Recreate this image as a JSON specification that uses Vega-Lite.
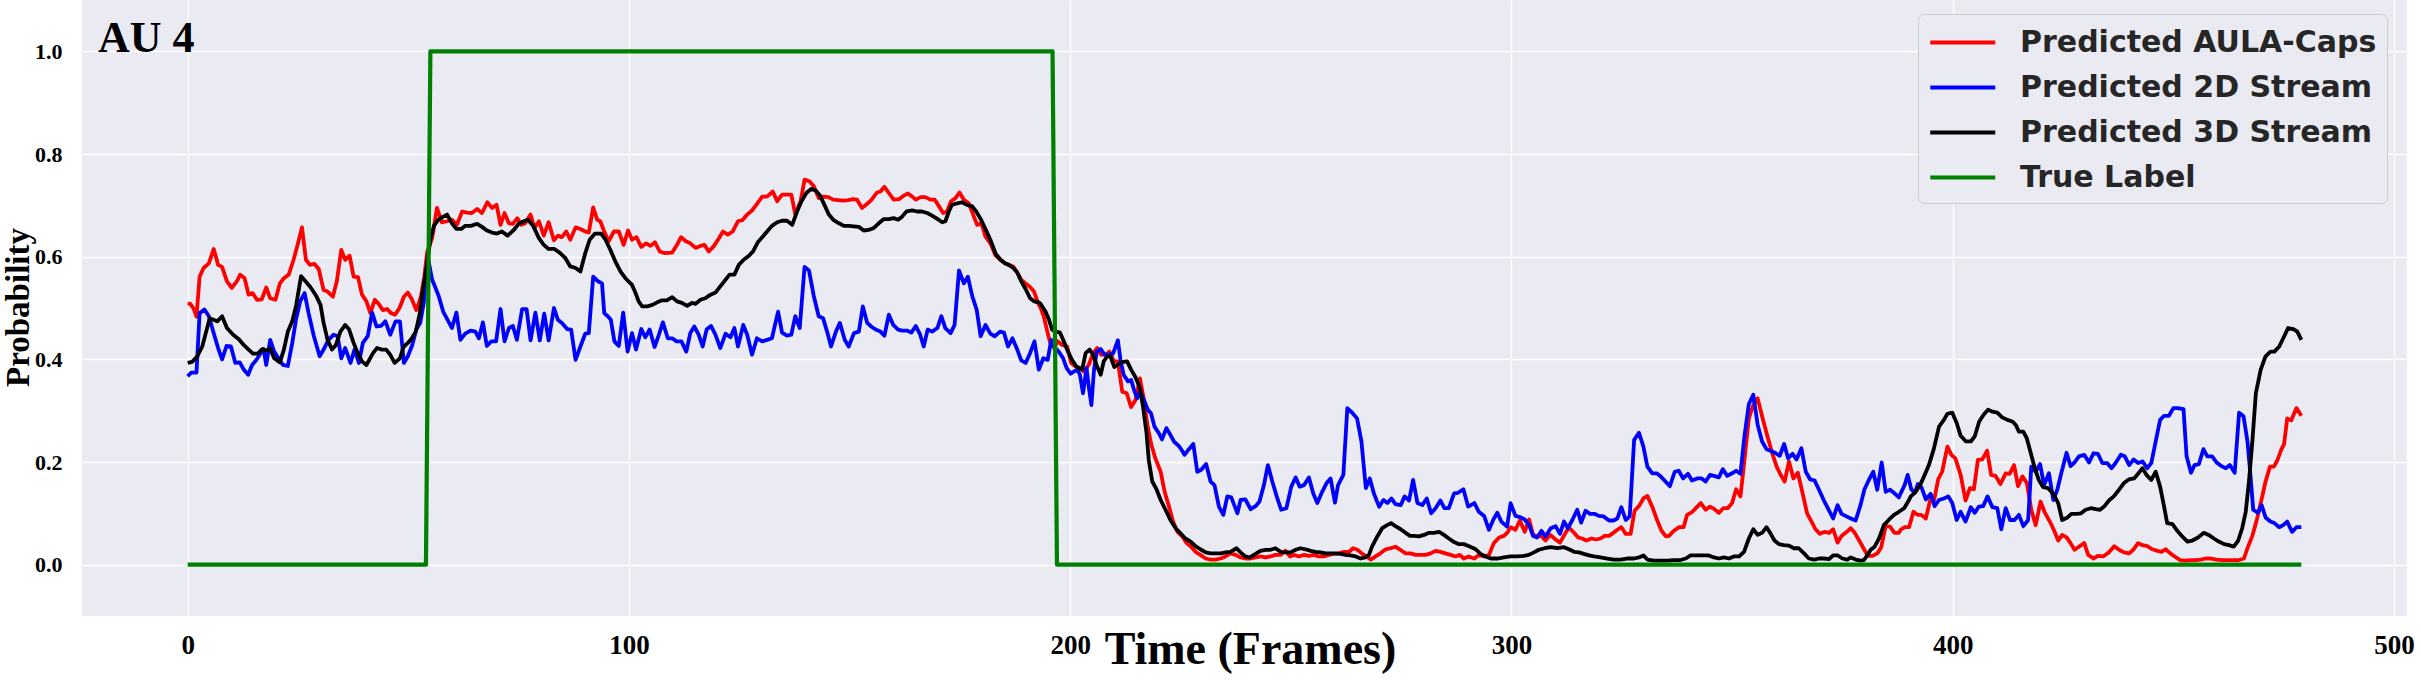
{
"$schema": "https://vega.github.io/schema/vega-lite/v6.json",
"width": 2325, "height": 616,
"autosize": {"type": "none"},
"padding": {"left": 82, "top": 0, "right": 14, "bottom": 72},
"background": "white",
"config": {"view": {"stroke": null, "fill": "#EAEAF2"}},
"title": {"text": "AU 4", "anchor": "start", "frame": "group", "orient": "top", "offset": 0, "dx": 16, "dy": 96, "baseline": "alphabetic", "font": "Liberation Serif", "fontSize": 44, "fontWeight": "bold", "color": "black"},
"datasets": {
"aula": [
{"f":0,"p":0.509},{"f":0.6,"p":0.508},{"f":1.4,"p":0.498},{"f":2,"p":0.483},{"f":2.7,"p":0.561},{"f":3.6,"p":0.578},{"f":4.8,"p":0.587},{"f":5.9,"p":0.615},{"f":6.9,"p":0.584},{"f":7.8,"p":0.58},{"f":8.9,"p":0.552},{"f":10,"p":0.539},{"f":11.2,"p":0.553},{"f":11.9,"p":0.565},{"f":12.9,"p":0.558},{"f":13.8,"p":0.526},{"f":14.7,"p":0.529},{"f":15.7,"p":0.516},{"f":16.8,"p":0.517},{"f":17.8,"p":0.54},{"f":18.7,"p":0.519},{"f":19.9,"p":0.516},{"f":20.9,"p":0.548},{"f":21.8,"p":0.558},{"f":22.9,"p":0.565},{"f":24,"p":0.594},{"f":25,"p":0.626},{"f":25.9,"p":0.657},{"f":26.8,"p":0.594},{"f":27.7,"p":0.584},{"f":28.7,"p":0.586},{"f":29.7,"p":0.576},{"f":30.8,"p":0.535},{"f":31.7,"p":0.532},{"f":32.9,"p":0.522},{"f":33.8,"p":0.552},{"f":34.8,"p":0.613},{"f":35.7,"p":0.594},{"f":36.7,"p":0.602},{"f":37.6,"p":0.561},{"f":38.6,"p":0.56},{"f":39.5,"p":0.526},{"f":40.5,"p":0.513},{"f":41.4,"p":0.49},{"f":42.4,"p":0.516},{"f":43.3,"p":0.508},{"f":44.2,"p":0.496},{"f":45.2,"p":0.498},{"f":46.1,"p":0.49},{"f":47,"p":0.487},{"f":48,"p":0.5},{"f":49,"p":0.522},{"f":49.9,"p":0.53},{"f":50.8,"p":0.517},{"f":51.8,"p":0.496},{"f":52.8,"p":0.52},{"f":53.6,"p":0.56},{"f":54.3,"p":0.61},{"f":55.4,"p":0.636},{"f":56.5,"p":0.695},{"f":57.6,"p":0.667},{"f":58.8,"p":0.669},{"f":59.9,"p":0.672},{"f":61,"p":0.662},{"f":62.2,"p":0.688},{"f":63.3,"p":0.686},{"f":64.4,"p":0.685},{"f":65.6,"p":0.693},{"f":66.7,"p":0.685},{"f":67.9,"p":0.706},{"f":69,"p":0.695},{"f":70,"p":0.701},{"f":70.9,"p":0.662},{"f":71.8,"p":0.685},{"f":72.8,"p":0.665},{"f":73.7,"p":0.664},{"f":74.7,"p":0.675},{"f":75.6,"p":0.662},{"f":76.5,"p":0.665},{"f":77.7,"p":0.682},{"f":78.6,"p":0.656},{"f":79.6,"p":0.669},{"f":80.7,"p":0.641},{"f":81.8,"p":0.667},{"f":83,"p":0.632},{"f":83.9,"p":0.641},{"f":84.8,"p":0.638},{"f":85.8,"p":0.649},{"f":86.7,"p":0.633},{"f":87.9,"p":0.657},{"f":89,"p":0.654},{"f":90.1,"p":0.649},{"f":90.9,"p":0.647},{"f":91.9,"p":0.696},{"f":92.8,"p":0.672},{"f":93.5,"p":0.669},{"f":94.4,"p":0.649},{"f":95.4,"p":0.63},{"f":96.6,"p":0.649},{"f":97.7,"p":0.649},{"f":98.8,"p":0.623},{"f":99.8,"p":0.651},{"f":100.7,"p":0.633},{"f":101.7,"p":0.638},{"f":102.8,"p":0.619},{"f":103.9,"p":0.626},{"f":104.9,"p":0.621},{"f":105.9,"p":0.628},{"f":107,"p":0.61},{"f":108,"p":0.607},{"f":109.8,"p":0.608},{"f":110.9,"p":0.623},{"f":111.8,"p":0.638},{"f":112.9,"p":0.63},{"f":113.9,"p":0.626},{"f":115.1,"p":0.617},{"f":116.2,"p":0.621},{"f":117.1,"p":0.623},{"f":118.1,"p":0.61},{"f":119.2,"p":0.62},{"f":120.4,"p":0.636},{"f":121.3,"p":0.649},{"f":122.4,"p":0.643},{"f":123.5,"p":0.649},{"f":124.7,"p":0.669},{"f":125.7,"p":0.671},{"f":126.8,"p":0.682},{"f":128,"p":0.691},{"f":129.1,"p":0.704},{"f":130.2,"p":0.717},{"f":131.3,"p":0.717},{"f":132.6,"p":0.727},{"f":133.6,"p":0.708},{"f":134.7,"p":0.721},{"f":135.9,"p":0.721},{"f":136.8,"p":0.721},{"f":137.7,"p":0.682},{"f":138.9,"p":0.708},{"f":139.8,"p":0.75},{"f":140.9,"p":0.747},{"f":141.9,"p":0.737},{"f":143,"p":0.714},{"f":144,"p":0.717},{"f":145.2,"p":0.716},{"f":146.3,"p":0.711},{"f":147.4,"p":0.71},{"f":148.5,"p":0.709},{"f":149.7,"p":0.71},{"f":150.8,"p":0.712},{"f":151.7,"p":0.711},{"f":152.8,"p":0.695},{"f":154,"p":0.703},{"f":155.1,"p":0.712},{"f":156.2,"p":0.725},{"f":157,"p":0.727},{"f":157.9,"p":0.736},{"f":158.9,"p":0.724},{"f":160,"p":0.711},{"f":161.2,"p":0.712},{"f":162.3,"p":0.719},{"f":163.2,"p":0.723},{"f":164.2,"p":0.717},{"f":165,"p":0.711},{"f":166.1,"p":0.716},{"f":167.2,"p":0.716},{"f":168.3,"p":0.711},{"f":169.3,"p":0.711},{"f":170.2,"p":0.699},{"f":171.2,"p":0.685},{"f":172.1,"p":0.688},{"f":173,"p":0.708},{"f":174,"p":0.714},{"f":174.9,"p":0.725},{"f":175.9,"p":0.711},{"f":177,"p":0.704},{"f":178,"p":0.682},{"f":178.9,"p":0.662},{"f":179.9,"p":0.665},{"f":180.8,"p":0.639},{"f":181.9,"p":0.626},{"f":183.1,"p":0.602},{"f":184.2,"p":0.594},{"f":185.2,"p":0.587},{"f":186.1,"p":0.584},{"f":187.1,"p":0.581},{"f":188,"p":0.569},{"f":188.9,"p":0.555},{"f":189.9,"p":0.548},{"f":190.9,"p":0.541},{"f":191.8,"p":0.532},{"f":192.7,"p":0.51},{"f":193.3,"p":0.5},{"f":194,"p":0.484},{"f":194.9,"p":0.451},{"f":195.5,"p":0.432},{"f":196.3,"p":0.422},{"f":197.2,"p":0.435},{"f":198.2,"p":0.428},{"f":199.3,"p":0.425},{"f":200.2,"p":0.393},{"f":201.2,"p":0.386},{"f":202.2,"p":0.383},{"f":203.1,"p":0.376},{"f":204.2,"p":0.389},{"f":205.2,"p":0.412},{"f":206.1,"p":0.422},{"f":207,"p":0.409},{"f":208,"p":0.409},{"f":208.9,"p":0.415},{"f":209.9,"p":0.396},{"f":210.8,"p":0.396},{"f":211.8,"p":0.337},{"f":212.8,"p":0.334},{"f":213.8,"p":0.307},{"f":214.8,"p":0.321},{"f":215.8,"p":0.363},{"f":216.7,"p":0.321},{"f":217.5,"p":0.272},{"f":218.4,"p":0.233},{"f":219.3,"p":0.207},{"f":220.5,"p":0.181},{"f":221.4,"p":0.142},{"f":222.4,"p":0.113},{"f":223.3,"p":0.084},{"f":224.3,"p":0.064},{"f":225.4,"p":0.055},{"f":226.4,"p":0.042},{"f":227.4,"p":0.035},{"f":228.4,"p":0.025},{"f":229.5,"p":0.019},{"f":230.7,"p":0.012},{"f":231.8,"p":0.01},{"f":232.9,"p":0.01},{"f":234.1,"p":0.012},{"f":235.2,"p":0.016},{"f":236.3,"p":0.022},{"f":237.5,"p":0.019},{"f":238.6,"p":0.014},{"f":239.7,"p":0.012},{"f":240.9,"p":0.012},{"f":242,"p":0.014},{"f":243.1,"p":0.016},{"f":244.3,"p":0.014},{"f":245.4,"p":0.016},{"f":246.5,"p":0.019},{"f":247.7,"p":0.019},{"f":248.8,"p":0.027},{"f":249.8,"p":0.016},{"f":250.7,"p":0.019},{"f":251.8,"p":0.016},{"f":253,"p":0.019},{"f":254.1,"p":0.017},{"f":255.2,"p":0.019},{"f":256.3,"p":0.016},{"f":257.5,"p":0.016},{"f":258.6,"p":0.019},{"f":259.8,"p":0.021},{"f":260.9,"p":0.022},{"f":262,"p":0.025},{"f":263.2,"p":0.025},{"f":264.1,"p":0.032},{"f":265.1,"p":0.029},{"f":266.2,"p":0.021},{"f":267.2,"p":0.016},{"f":268.1,"p":0.01},{"f":269.2,"p":0.016},{"f":270.3,"p":0.022},{"f":271.5,"p":0.03},{"f":272.6,"p":0.032},{"f":273.7,"p":0.035},{"f":274.8,"p":0.029},{"f":276,"p":0.022},{"f":277.1,"p":0.022},{"f":278.3,"p":0.019},{"f":279.4,"p":0.019},{"f":280.5,"p":0.019},{"f":281.7,"p":0.022},{"f":282.8,"p":0.027},{"f":283.9,"p":0.025},{"f":285,"p":0.022},{"f":286.2,"p":0.019},{"f":287.3,"p":0.016},{"f":288.3,"p":0.019},{"f":289.2,"p":0.012},{"f":290.3,"p":0.016},{"f":291.6,"p":0.012},{"f":292.6,"p":0.019},{"f":293.8,"p":0.016},{"f":294.9,"p":0.019},{"f":296,"p":0.042},{"f":297.2,"p":0.053},{"f":298.3,"p":0.056},{"f":299,"p":0.062},{"f":299.9,"p":0.073},{"f":300.9,"p":0.068},{"f":301.9,"p":0.086},{"f":303,"p":0.064},{"f":304,"p":0.088},{"f":304.9,"p":0.058},{"f":305.8,"p":0.055},{"f":306.7,"p":0.056},{"f":307.7,"p":0.047},{"f":308.8,"p":0.058},{"f":310,"p":0.049},{"f":311,"p":0.043},{"f":312,"p":0.058},{"f":313,"p":0.073},{"f":314.2,"p":0.062},{"f":315.1,"p":0.053},{"f":316,"p":0.051},{"f":317,"p":0.047},{"f":318.1,"p":0.051},{"f":319.1,"p":0.049},{"f":320.2,"p":0.051},{"f":321.1,"p":0.056},{"f":322.1,"p":0.056},{"f":323.1,"p":0.062},{"f":324,"p":0.068},{"f":324.9,"p":0.073},{"f":325.9,"p":0.06},{"f":327,"p":0.06},{"f":327.9,"p":0.105},{"f":328.9,"p":0.114},{"f":329.9,"p":0.129},{"f":330.8,"p":0.134},{"f":331.9,"p":0.113},{"f":333,"p":0.087},{"f":334,"p":0.066},{"f":335,"p":0.055},{"f":335.7,"p":0.056},{"f":336.8,"p":0.066},{"f":338,"p":0.073},{"f":339,"p":0.073},{"f":339.8,"p":0.097},{"f":341,"p":0.103},{"f":342,"p":0.112},{"f":342.9,"p":0.12},{"f":344,"p":0.107},{"f":345,"p":0.113},{"f":346,"p":0.108},{"f":347,"p":0.101},{"f":348,"p":0.11},{"f":349,"p":0.11},{"f":350,"p":0.12},{"f":350.9,"p":0.147},{"f":351.9,"p":0.133},{"f":352.8,"p":0.204},{"f":353.8,"p":0.285},{"f":354.8,"p":0.311},{"f":355.8,"p":0.324},{"f":356.8,"p":0.289},{"f":358,"p":0.25},{"f":359.1,"p":0.217},{"f":360.1,"p":0.191},{"f":361,"p":0.175},{"f":361.9,"p":0.162},{"f":362.9,"p":0.201},{"f":363.9,"p":0.168},{"f":364.9,"p":0.179},{"f":365.9,"p":0.142},{"f":367,"p":0.1},{"f":368,"p":0.084},{"f":368.9,"p":0.069},{"f":369.9,"p":0.06},{"f":371,"p":0.064},{"f":372,"p":0.062},{"f":372.9,"p":0.069},{"f":373.9,"p":0.043},{"f":374.8,"p":0.056},{"f":375.7,"p":0.062},{"f":376.9,"p":0.071},{"f":377.8,"p":0.062},{"f":378.8,"p":0.047},{"f":379.9,"p":0.03},{"f":380.8,"p":0.017},{"f":381.8,"p":0.017},{"f":382.9,"p":0.022},{"f":383.8,"p":0.034},{"f":384.8,"p":0.075},{"f":385.8,"p":0.074},{"f":386.8,"p":0.062},{"f":387.8,"p":0.062},{"f":388.2,"p":0.068},{"f":389.1,"p":0.073},{"f":390.1,"p":0.073},{"f":391.1,"p":0.103},{"f":392,"p":0.097},{"f":392.9,"p":0.097},{"f":393.9,"p":0.09},{"f":394.9,"p":0.126},{"f":395.8,"p":0.126},{"f":396.7,"p":0.166},{"f":397.6,"p":0.181},{"f":398.8,"p":0.23},{"f":399.7,"p":0.214},{"f":400.6,"p":0.207},{"f":401.8,"p":0.175},{"f":402.9,"p":0.125},{"f":403.9,"p":0.149},{"f":404.8,"p":0.147},{"f":405.7,"p":0.204},{"f":406.7,"p":0.205},{"f":407.8,"p":0.222},{"f":408.7,"p":0.175},{"f":409.7,"p":0.173},{"f":410.8,"p":0.157},{"f":412,"p":0.178},{"f":412.9,"p":0.177},{"f":413.9,"p":0.194},{"f":414.8,"p":0.153},{"f":415.8,"p":0.172},{"f":416.8,"p":0.159},{"f":417.8,"p":0.107},{"f":418.8,"p":0.077},{"f":419.9,"p":0.123},{"f":420.8,"p":0.103},{"f":422,"p":0.084},{"f":422.9,"p":0.068},{"f":423.9,"p":0.047},{"f":424.8,"p":0.058},{"f":425.8,"p":0.053},{"f":426.7,"p":0.042},{"f":427.6,"p":0.029},{"f":428.6,"p":0.035},{"f":429.8,"p":0.042},{"f":430.7,"p":0.019},{"f":431.9,"p":0.012},{"f":432.9,"p":0.017},{"f":434.1,"p":0.016},{"f":435.4,"p":0.024},{"f":436.6,"p":0.036},{"f":437.7,"p":0.029},{"f":438.8,"p":0.024},{"f":440,"p":0.022},{"f":440.9,"p":0.029},{"f":442,"p":0.042},{"f":443,"p":0.038},{"f":444.1,"p":0.036},{"f":445.2,"p":0.03},{"f":446.4,"p":0.027},{"f":447.3,"p":0.025},{"f":448.3,"p":0.03},{"f":449.3,"p":0.022},{"f":450.3,"p":0.016},{"f":451.5,"p":0.009},{"f":452.6,"p":0.008},{"f":453.8,"p":0.009},{"f":455.1,"p":0.009},{"f":456.2,"p":0.01},{"f":457.3,"p":0.012},{"f":458.5,"p":0.012},{"f":459.8,"p":0.01},{"f":461.1,"p":0.009},{"f":462.4,"p":0.009},{"f":463.7,"p":0.009},{"f":464.9,"p":0.009},{"f":466,"p":0.012},{"f":466.8,"p":0.032},{"f":467.9,"p":0.056},{"f":468.9,"p":0.087},{"f":469.8,"p":0.12},{"f":470.9,"p":0.162},{"f":471.9,"p":0.191},{"f":472.8,"p":0.191},{"f":473.6,"p":0.204},{"f":474.5,"p":0.225},{"f":475.1,"p":0.235},{"f":475.8,"p":0.285},{"f":476.7,"p":0.281},{"f":477.9,"p":0.305},{"f":479,"p":0.29}
],
"d2": [
{"f":0,"p":0.367},{"f":0.8,"p":0.374},{"f":2,"p":0.374},{"f":2.7,"p":0.49},{"f":3.8,"p":0.497},{"f":4.8,"p":0.484},{"f":5.9,"p":0.451},{"f":6.9,"p":0.422},{"f":7.8,"p":0.4},{"f":8.8,"p":0.426},{"f":9.8,"p":0.425},{"f":10.8,"p":0.393},{"f":11.8,"p":0.394},{"f":12.7,"p":0.38},{"f":13.7,"p":0.37},{"f":14.6,"p":0.389},{"f":15.6,"p":0.399},{"f":16.5,"p":0.412},{"f":17.2,"p":0.42},{"f":17.8,"p":0.389},{"f":18.7,"p":0.438},{"f":19.6,"p":0.415},{"f":20.6,"p":0.402},{"f":21.6,"p":0.389},{"f":22.7,"p":0.387},{"f":23.7,"p":0.432},{"f":24.6,"p":0.48},{"f":25.5,"p":0.513},{"f":26.5,"p":0.529},{"f":27.4,"p":0.49},{"f":28.6,"p":0.445},{"f":29.9,"p":0.406},{"f":30.8,"p":0.419},{"f":31.9,"p":0.438},{"f":33.1,"p":0.448},{"f":34,"p":0.445},{"f":34.8,"p":0.402},{"f":35.7,"p":0.422},{"f":36.9,"p":0.393},{"f":37.8,"p":0.419},{"f":38.8,"p":0.393},{"f":39.7,"p":0.432},{"f":40.8,"p":0.445},{"f":41.8,"p":0.491},{"f":42.8,"p":0.464},{"f":43.8,"p":0.465},{"f":44.8,"p":0.474},{"f":45.9,"p":0.448},{"f":47.1,"p":0.474},{"f":48.1,"p":0.474},{"f":49,"p":0.393},{"f":49.9,"p":0.406},{"f":50.9,"p":0.428},{"f":51.8,"p":0.458},{"f":52.7,"p":0.471},{"f":53.5,"p":0.51},{"f":54.4,"p":0.6},{"f":55.4,"p":0.555},{"f":55.9,"p":0.545},{"f":56.9,"p":0.523},{"f":57.9,"p":0.493},{"f":58.9,"p":0.477},{"f":59.9,"p":0.461},{"f":60.9,"p":0.491},{"f":61.8,"p":0.438},{"f":62.9,"p":0.45},{"f":64.1,"p":0.456},{"f":65.2,"p":0.454},{"f":66,"p":0.441},{"f":66.9,"p":0.472},{"f":67.8,"p":0.426},{"f":68.8,"p":0.435},{"f":69.9,"p":0.435},{"f":70.9,"p":0.498},{"f":71.8,"p":0.435},{"f":72.8,"p":0.461},{"f":73.7,"p":0.465},{"f":74.6,"p":0.438},{"f":75.8,"p":0.498},{"f":76.8,"p":0.498},{"f":77.7,"p":0.437},{"f":78.8,"p":0.491},{"f":79.8,"p":0.437},{"f":80.8,"p":0.489},{"f":81.8,"p":0.437},{"f":83,"p":0.5},{"f":83.9,"p":0.477},{"f":84.8,"p":0.471},{"f":86,"p":0.459},{"f":86.9,"p":0.458},{"f":87.9,"p":0.399},{"f":89,"p":0.425},{"f":90.1,"p":0.45},{"f":90.9,"p":0.451},{"f":91.9,"p":0.561},{"f":93,"p":0.552},{"f":93.9,"p":0.548},{"f":94.4,"p":0.49},{"f":95.2,"p":0.484},{"f":95.9,"p":0.477},{"f":96.7,"p":0.435},{"f":97.7,"p":0.426},{"f":98.7,"p":0.491},{"f":99.7,"p":0.415},{"f":100.7,"p":0.451},{"f":101.6,"p":0.419},{"f":102.8,"p":0.459},{"f":103.7,"p":0.443},{"f":104.7,"p":0.458},{"f":105.8,"p":0.424},{"f":106.8,"p":0.448},{"f":107.7,"p":0.472},{"f":108.8,"p":0.441},{"f":109.8,"p":0.441},{"f":110.8,"p":0.435},{"f":111.9,"p":0.435},{"f":113,"p":0.415},{"f":113.9,"p":0.451},{"f":114.8,"p":0.464},{"f":115.8,"p":0.448},{"f":116.7,"p":0.425},{"f":117.6,"p":0.458},{"f":118.6,"p":0.465},{"f":119.6,"p":0.448},{"f":120.7,"p":0.422},{"f":121.9,"p":0.45},{"f":123,"p":0.443},{"f":123.9,"p":0.461},{"f":124.7,"p":0.425},{"f":125.9,"p":0.467},{"f":126.8,"p":0.448},{"f":127.9,"p":0.409},{"f":129,"p":0.441},{"f":130.2,"p":0.435},{"f":131.3,"p":0.438},{"f":132.4,"p":0.441},{"f":133.8,"p":0.493},{"f":134.7,"p":0.452},{"f":135.8,"p":0.446},{"f":136.8,"p":0.448},{"f":137.7,"p":0.484},{"f":138.7,"p":0.461},{"f":139.8,"p":0.58},{"f":140.8,"p":0.573},{"f":141.9,"p":0.523},{"f":143,"p":0.484},{"f":144,"p":0.48},{"f":144.9,"p":0.454},{"f":145.8,"p":0.425},{"f":146.9,"p":0.454},{"f":147.8,"p":0.471},{"f":148.9,"p":0.438},{"f":149.8,"p":0.425},{"f":151,"p":0.451},{"f":152.1,"p":0.454},{"f":153,"p":0.503},{"f":154,"p":0.471},{"f":154.9,"p":0.464},{"f":155.9,"p":0.458},{"f":157,"p":0.454},{"f":157.9,"p":0.446},{"f":158.9,"p":0.487},{"f":159.9,"p":0.467},{"f":161,"p":0.458},{"f":161.9,"p":0.456},{"f":163,"p":0.456},{"f":164,"p":0.452},{"f":165,"p":0.465},{"f":166,"p":0.448},{"f":166.8,"p":0.425},{"f":167.7,"p":0.458},{"f":168.7,"p":0.454},{"f":169.9,"p":0.461},{"f":170.8,"p":0.484},{"f":171.7,"p":0.461},{"f":172.9,"p":0.451},{"f":173.8,"p":0.467},{"f":174.8,"p":0.573},{"f":175.9,"p":0.548},{"f":176.8,"p":0.561},{"f":177.8,"p":0.523},{"f":178.8,"p":0.497},{"f":179.7,"p":0.445},{"f":180.8,"p":0.467},{"f":181.9,"p":0.45},{"f":182.9,"p":0.445},{"f":184.1,"p":0.454},{"f":185,"p":0.452},{"f":185.9,"p":0.425},{"f":186.9,"p":0.441},{"f":188,"p":0.419},{"f":188.9,"p":0.398},{"f":189.9,"p":0.393},{"f":190.9,"p":0.412},{"f":191.9,"p":0.435},{"f":192.9,"p":0.38},{"f":193.9,"p":0.402},{"f":194.9,"p":0.399},{"f":195.7,"p":0.438},{"f":196.3,"p":0.425},{"f":197.4,"p":0.415},{"f":198.4,"p":0.402},{"f":199.2,"p":0.383},{"f":200.1,"p":0.372},{"f":200.8,"p":0.376},{"f":201.6,"p":0.38},{"f":202.2,"p":0.37},{"f":202.9,"p":0.334},{"f":203.7,"p":0.383},{"f":204.2,"p":0.347},{"f":204.8,"p":0.311},{"f":205.4,"p":0.38},{"f":206,"p":0.415},{"f":206.9,"p":0.42},{"f":207.8,"p":0.409},{"f":208.8,"p":0.409},{"f":209.7,"p":0.411},{"f":210.8,"p":0.437},{"f":211.4,"p":0.399},{"f":212.1,"p":0.37},{"f":213.1,"p":0.357},{"f":213.8,"p":0.36},{"f":214.6,"p":0.337},{"f":215.2,"p":0.324},{"f":215.9,"p":0.337},{"f":216.7,"p":0.321},{"f":217.6,"p":0.302},{"f":218.3,"p":0.295},{"f":219.1,"p":0.269},{"f":220.1,"p":0.256},{"f":220.8,"p":0.244},{"f":221.8,"p":0.266},{"f":222.7,"p":0.253},{"f":223.5,"p":0.24},{"f":224.4,"p":0.233},{"f":225,"p":0.227},{"f":225.9,"p":0.214},{"f":226.9,"p":0.225},{"f":227.9,"p":0.235},{"f":228.8,"p":0.181},{"f":229.7,"p":0.185},{"f":230.8,"p":0.196},{"f":231.8,"p":0.162},{"f":232.7,"p":0.155},{"f":233.7,"p":0.113},{"f":234.7,"p":0.097},{"f":235.6,"p":0.133},{"f":236.5,"p":0.131},{"f":237.9,"p":0.1},{"f":238.6,"p":0.126},{"f":239.7,"p":0.127},{"f":240.9,"p":0.108},{"f":242,"p":0.114},{"f":242.9,"p":0.123},{"f":243.9,"p":0.155},{"f":244.8,"p":0.194},{"f":245.8,"p":0.162},{"f":246.8,"p":0.133},{"f":247.8,"p":0.107},{"f":249,"p":0.11},{"f":250.1,"p":0.152},{"f":251.1,"p":0.17},{"f":252,"p":0.152},{"f":253,"p":0.155},{"f":254.1,"p":0.17},{"f":255.1,"p":0.138},{"f":256,"p":0.12},{"f":257.1,"p":0.142},{"f":258.1,"p":0.159},{"f":259,"p":0.168},{"f":260,"p":0.121},{"f":260.7,"p":0.155},{"f":261.9,"p":0.175},{"f":262.8,"p":0.305},{"f":264,"p":0.295},{"f":265,"p":0.285},{"f":266,"p":0.24},{"f":267,"p":0.149},{"f":267.9,"p":0.168},{"f":268.8,"p":0.139},{"f":270,"p":0.113},{"f":271,"p":0.126},{"f":271.9,"p":0.12},{"f":272.8,"p":0.129},{"f":273.7,"p":0.118},{"f":274.9,"p":0.116},{"f":275.8,"p":0.133},{"f":276.8,"p":0.125},{"f":277.7,"p":0.165},{"f":278.7,"p":0.12},{"f":279.8,"p":0.116},{"f":280.8,"p":0.129},{"f":281.8,"p":0.1},{"f":282.8,"p":0.11},{"f":283.9,"p":0.125},{"f":284.8,"p":0.11},{"f":285.8,"p":0.11},{"f":287,"p":0.139},{"f":287.9,"p":0.14},{"f":289.1,"p":0.147},{"f":290.2,"p":0.113},{"f":291.6,"p":0.12},{"f":292.6,"p":0.103},{"f":293.8,"p":0.095},{"f":294.9,"p":0.068},{"f":295.9,"p":0.088},{"f":296.8,"p":0.101},{"f":297.7,"p":0.084},{"f":299,"p":0.074},{"f":299.8,"p":0.12},{"f":300.9,"p":0.095},{"f":302.1,"p":0.092},{"f":303,"p":0.088},{"f":304,"p":0.077},{"f":304.9,"p":0.056},{"f":305.8,"p":0.053},{"f":306.8,"p":0.066},{"f":307.7,"p":0.055},{"f":308.9,"p":0.071},{"f":310,"p":0.075},{"f":311,"p":0.06},{"f":311.9,"p":0.084},{"f":312.8,"p":0.071},{"f":313.8,"p":0.087},{"f":314.9,"p":0.107},{"f":315.8,"p":0.082},{"f":316.8,"p":0.105},{"f":317.8,"p":0.099},{"f":318.8,"p":0.099},{"f":319.8,"p":0.095},{"f":320.9,"p":0.094},{"f":322.1,"p":0.086},{"f":323.1,"p":0.086},{"f":324,"p":0.09},{"f":324.9,"p":0.112},{"f":325.9,"p":0.087},{"f":326.8,"p":0.094},{"f":327.8,"p":0.243},{"f":328.9,"p":0.257},{"f":329.9,"p":0.23},{"f":330.8,"p":0.191},{"f":331.9,"p":0.178},{"f":332.9,"p":0.178},{"f":333.8,"p":0.172},{"f":334.9,"p":0.162},{"f":335.9,"p":0.153},{"f":337,"p":0.181},{"f":337.9,"p":0.183},{"f":338.9,"p":0.168},{"f":340,"p":0.177},{"f":340.9,"p":0.164},{"f":342.1,"p":0.168},{"f":343.1,"p":0.168},{"f":344,"p":0.162},{"f":345,"p":0.175},{"f":345.9,"p":0.173},{"f":347,"p":0.17},{"f":347.9,"p":0.186},{"f":348.9,"p":0.173},{"f":350,"p":0.178},{"f":350.9,"p":0.183},{"f":351.9,"p":0.177},{"f":352.8,"p":0.25},{"f":353.8,"p":0.313},{"f":354.8,"p":0.331},{"f":355.8,"p":0.272},{"f":356.8,"p":0.24},{"f":357.8,"p":0.225},{"f":358.7,"p":0.222},{"f":359.9,"p":0.217},{"f":360.8,"p":0.212},{"f":361.8,"p":0.235},{"f":362.7,"p":0.207},{"f":363.7,"p":0.216},{"f":364.6,"p":0.205},{"f":365.7,"p":0.227},{"f":366.7,"p":0.181},{"f":367.7,"p":0.166},{"f":368.7,"p":0.164},{"f":369.7,"p":0.146},{"f":370.8,"p":0.125},{"f":371.7,"p":0.11},{"f":372.9,"p":0.09},{"f":373.9,"p":0.116},{"f":374.8,"p":0.099},{"f":375.7,"p":0.095},{"f":376.9,"p":0.09},{"f":378,"p":0.086},{"f":379.1,"p":0.116},{"f":380,"p":0.147},{"f":381,"p":0.165},{"f":382,"p":0.181},{"f":382.9,"p":0.146},{"f":383.9,"p":0.199},{"f":384.8,"p":0.142},{"f":385.8,"p":0.146},{"f":386.8,"p":0.139},{"f":387.8,"p":0.131},{"f":388.2,"p":0.139},{"f":389.1,"p":0.155},{"f":389.8,"p":0.175},{"f":390.6,"p":0.147},{"f":391.4,"p":0.14},{"f":392.1,"p":0.157},{"f":392.9,"p":0.151},{"f":393.9,"p":0.127},{"f":395,"p":0.138},{"f":395.9,"p":0.114},{"f":396.9,"p":0.126},{"f":398,"p":0.129},{"f":399,"p":0.133},{"f":399.9,"p":0.12},{"f":400.9,"p":0.087},{"f":401.8,"p":0.103},{"f":402.9,"p":0.084},{"f":404.1,"p":0.112},{"f":405,"p":0.101},{"f":405.9,"p":0.113},{"f":406.9,"p":0.114},{"f":407.9,"p":0.133},{"f":409,"p":0.112},{"f":410.1,"p":0.11},{"f":411,"p":0.069},{"f":412,"p":0.11},{"f":413,"p":0.087},{"f":414,"p":0.087},{"f":415,"p":0.097},{"f":416,"p":0.075},{"f":417.1,"p":0.087},{"f":417.8,"p":0.191},{"f":418.8,"p":0.181},{"f":419.8,"p":0.196},{"f":420.7,"p":0.155},{"f":421.8,"p":0.178},{"f":422.8,"p":0.126},{"f":423.7,"p":0.146},{"f":424.6,"p":0.178},{"f":425.8,"p":0.218},{"f":426.7,"p":0.192},{"f":427.6,"p":0.199},{"f":428.6,"p":0.211},{"f":429.8,"p":0.214},{"f":430.9,"p":0.199},{"f":431.9,"p":0.217},{"f":432.9,"p":0.216},{"f":433.9,"p":0.198},{"f":435,"p":0.198},{"f":436,"p":0.188},{"f":436.9,"p":0.198},{"f":438.1,"p":0.214},{"f":439,"p":0.211},{"f":440,"p":0.194},{"f":441,"p":0.205},{"f":442,"p":0.198},{"f":443,"p":0.201},{"f":444.1,"p":0.188},{"f":445,"p":0.198},{"f":446,"p":0.24},{"f":447,"p":0.282},{"f":447.9,"p":0.29},{"f":449,"p":0.29},{"f":450,"p":0.305},{"f":451,"p":0.305},{"f":452.3,"p":0.303},{"f":453,"p":0.211},{"f":454,"p":0.179},{"f":454.8,"p":0.194},{"f":455.8,"p":0.196},{"f":456.8,"p":0.225},{"f":457.7,"p":0.211},{"f":458.8,"p":0.211},{"f":459.8,"p":0.199},{"f":460.9,"p":0.192},{"f":461.9,"p":0.188},{"f":462.8,"p":0.194},{"f":463.9,"p":0.179},{"f":464.9,"p":0.296},{"f":465.9,"p":0.289},{"f":466.8,"p":0.24},{"f":467.5,"p":0.172},{"f":468.1,"p":0.107},{"f":469.2,"p":0.101},{"f":470,"p":0.116},{"f":470.9,"p":0.092},{"f":472,"p":0.084},{"f":472.9,"p":0.081},{"f":474,"p":0.073},{"f":474.9,"p":0.077},{"f":475.8,"p":0.084},{"f":476.9,"p":0.064},{"f":477.9,"p":0.073},{"f":479,"p":0.073}
],
"d3": [
{"f":0,"p":0.393},{"f":1,"p":0.395},{"f":2.1,"p":0.405},{"f":3.3,"p":0.425},{"f":4,"p":0.448},{"f":5,"p":0.48},{"f":6.7,"p":0.474},{"f":7.8,"p":0.484},{"f":8.9,"p":0.461},{"f":10.3,"p":0.448},{"f":11.6,"p":0.439},{"f":12.7,"p":0.428},{"f":13.8,"p":0.419},{"f":14.8,"p":0.411},{"f":15.9,"p":0.411},{"f":16.9,"p":0.42},{"f":17.8,"p":0.417},{"f":18.7,"p":0.421},{"f":19.6,"p":0.402},{"f":20.9,"p":0.394},{"f":21.8,"p":0.419},{"f":22.7,"p":0.454},{"f":23.7,"p":0.474},{"f":24.6,"p":0.506},{"f":25.7,"p":0.562},{"f":26.7,"p":0.552},{"f":27.8,"p":0.541},{"f":29.1,"p":0.524},{"f":30.1,"p":0.506},{"f":30.8,"p":0.471},{"f":31.7,"p":0.438},{"f":32.7,"p":0.419},{"f":33.6,"p":0.428},{"f":34.6,"p":0.454},{"f":35.7,"p":0.467},{"f":36.6,"p":0.458},{"f":37.6,"p":0.432},{"f":38.5,"p":0.413},{"f":39.5,"p":0.396},{"f":40.5,"p":0.389},{"f":42,"p":0.412},{"f":42.9,"p":0.422},{"f":44,"p":0.419},{"f":45,"p":0.419},{"f":45.9,"p":0.409},{"f":46.9,"p":0.393},{"f":48.1,"p":0.402},{"f":48.9,"p":0.424},{"f":49.9,"p":0.432},{"f":50.8,"p":0.441},{"f":51.7,"p":0.454},{"f":52.6,"p":0.49},{"f":53.3,"p":0.536},{"f":54.1,"p":0.578},{"f":55,"p":0.633},{"f":55.8,"p":0.66},{"f":56.7,"p":0.671},{"f":57.9,"p":0.678},{"f":58.8,"p":0.682},{"f":59.9,"p":0.665},{"f":60.9,"p":0.654},{"f":62,"p":0.654},{"f":62.9,"p":0.66},{"f":64.2,"p":0.66},{"f":65.6,"p":0.664},{"f":66.7,"p":0.658},{"f":67.8,"p":0.651},{"f":69,"p":0.647},{"f":70.1,"p":0.645},{"f":71.2,"p":0.649},{"f":72.5,"p":0.641},{"f":73.9,"p":0.652},{"f":75,"p":0.664},{"f":76.2,"p":0.669},{"f":77.1,"p":0.672},{"f":78.3,"p":0.66},{"f":79.6,"p":0.636},{"f":80.7,"p":0.623},{"f":81.8,"p":0.615},{"f":83.1,"p":0.615},{"f":84.3,"p":0.608},{"f":85.6,"p":0.597},{"f":86.7,"p":0.581},{"f":87.9,"p":0.578},{"f":89,"p":0.571},{"f":90.1,"p":0.607},{"f":91.1,"p":0.633},{"f":92.3,"p":0.645},{"f":93.7,"p":0.645},{"f":94.7,"p":0.633},{"f":95.8,"p":0.613},{"f":96.9,"p":0.591},{"f":98.1,"p":0.571},{"f":99.2,"p":0.558},{"f":100.7,"p":0.545},{"f":101.5,"p":0.529},{"f":102.2,"p":0.513},{"f":103,"p":0.503},{"f":104.1,"p":0.503},{"f":105.3,"p":0.506},{"f":106.4,"p":0.511},{"f":107.5,"p":0.515},{"f":108.6,"p":0.515},{"f":109.8,"p":0.521},{"f":110.9,"p":0.513},{"f":112,"p":0.51},{"f":113.2,"p":0.504},{"f":114.3,"p":0.51},{"f":115.1,"p":0.508},{"f":116.2,"p":0.516},{"f":117.3,"p":0.519},{"f":118.5,"p":0.526},{"f":119.6,"p":0.53},{"f":120.6,"p":0.541},{"f":121.6,"p":0.552},{"f":122.8,"p":0.565},{"f":123.9,"p":0.565},{"f":124.9,"p":0.584},{"f":126,"p":0.594},{"f":127.2,"p":0.602},{"f":128.1,"p":0.61},{"f":129.2,"p":0.628},{"f":130.3,"p":0.639},{"f":131.3,"p":0.649},{"f":132.4,"p":0.66},{"f":133.6,"p":0.667},{"f":134.7,"p":0.67},{"f":135.8,"p":0.67},{"f":137,"p":0.662},{"f":138.1,"p":0.688},{"f":139.1,"p":0.708},{"f":140.2,"p":0.724},{"f":141.3,"p":0.732},{"f":142.3,"p":0.729},{"f":143.3,"p":0.719},{"f":144.3,"p":0.701},{"f":145.3,"p":0.682},{"f":146.4,"p":0.671},{"f":147.6,"p":0.665},{"f":148.7,"p":0.66},{"f":149.8,"p":0.66},{"f":150.9,"p":0.659},{"f":152.1,"p":0.658},{"f":153.2,"p":0.651},{"f":154.3,"p":0.652},{"f":155.5,"p":0.656},{"f":156.6,"p":0.665},{"f":157.7,"p":0.673},{"f":158.9,"p":0.673},{"f":160,"p":0.675},{"f":161,"p":0.672},{"f":161.9,"p":0.678},{"f":162.9,"p":0.688},{"f":164.2,"p":0.69},{"f":165.3,"p":0.688},{"f":166.4,"p":0.688},{"f":167.6,"p":0.685},{"f":168.7,"p":0.68},{"f":169.8,"p":0.674},{"f":171,"p":0.667},{"f":171.7,"p":0.669},{"f":172.5,"p":0.688},{"f":173.2,"p":0.701},{"f":174.4,"p":0.704},{"f":175.5,"p":0.706},{"f":176.6,"p":0.701},{"f":177.8,"p":0.698},{"f":178.7,"p":0.688},{"f":179.8,"p":0.672},{"f":180.8,"p":0.654},{"f":181.9,"p":0.633},{"f":183.1,"p":0.606},{"f":184.2,"p":0.594},{"f":185.2,"p":0.587},{"f":186.1,"p":0.584},{"f":187.1,"p":0.578},{"f":188,"p":0.569},{"f":188.9,"p":0.552},{"f":189.9,"p":0.537},{"f":190.9,"p":0.519},{"f":191.8,"p":0.513},{"f":192.8,"p":0.511},{"f":193.3,"p":0.508},{"f":194.4,"p":0.493},{"f":195.2,"p":0.477},{"f":195.9,"p":0.458},{"f":196.7,"p":0.454},{"f":197.7,"p":0.452},{"f":198.4,"p":0.438},{"f":199.3,"p":0.419},{"f":200.4,"p":0.399},{"f":201.4,"p":0.386},{"f":202.7,"p":0.38},{"f":203.5,"p":0.412},{"f":204.4,"p":0.419},{"f":205.2,"p":0.409},{"f":206.1,"p":0.386},{"f":206.9,"p":0.37},{"f":207.6,"p":0.396},{"f":208.4,"p":0.406},{"f":209.1,"p":0.406},{"f":210,"p":0.385},{"f":211,"p":0.391},{"f":212,"p":0.395},{"f":212.9,"p":0.396},{"f":213.8,"p":0.38},{"f":214.8,"p":0.365},{"f":215.8,"p":0.344},{"f":216.5,"p":0.308},{"f":217.3,"p":0.256},{"f":217.8,"p":0.204},{"f":218.6,"p":0.162},{"f":219.6,"p":0.146},{"f":220.5,"p":0.126},{"f":221.6,"p":0.107},{"f":222.7,"p":0.087},{"f":223.9,"p":0.071},{"f":225,"p":0.061},{"f":226.1,"p":0.051},{"f":227.3,"p":0.045},{"f":228.4,"p":0.036},{"f":229.5,"p":0.03},{"f":230.7,"p":0.024},{"f":231.8,"p":0.022},{"f":232.9,"p":0.022},{"f":234.1,"p":0.022},{"f":235.2,"p":0.024},{"f":236.3,"p":0.025},{"f":237.7,"p":0.032},{"f":238.6,"p":0.024},{"f":239.7,"p":0.016},{"f":240.7,"p":0.014},{"f":242,"p":0.021},{"f":243.1,"p":0.027},{"f":244.3,"p":0.029},{"f":245.4,"p":0.029},{"f":246.5,"p":0.032},{"f":247.7,"p":0.025},{"f":248.8,"p":0.024},{"f":249.9,"p":0.024},{"f":251.1,"p":0.029},{"f":252.2,"p":0.032},{"f":253.3,"p":0.03},{"f":254.5,"p":0.027},{"f":255.6,"p":0.025},{"f":256.7,"p":0.024},{"f":257.9,"p":0.022},{"f":259,"p":0.022},{"f":260.1,"p":0.022},{"f":261.3,"p":0.021},{"f":262.4,"p":0.019},{"f":263.5,"p":0.018},{"f":264.7,"p":0.016},{"f":265.8,"p":0.012},{"f":266.9,"p":0.014},{"f":267.7,"p":0.019},{"f":268.4,"p":0.035},{"f":269.6,"p":0.055},{"f":270.7,"p":0.071},{"f":271.8,"p":0.077},{"f":272.7,"p":0.081},{"f":273.7,"p":0.075},{"f":274.9,"p":0.069},{"f":276,"p":0.062},{"f":277,"p":0.056},{"f":277.9,"p":0.056},{"f":279,"p":0.055},{"f":280.2,"p":0.058},{"f":281.3,"p":0.062},{"f":282.4,"p":0.062},{"f":283.6,"p":0.064},{"f":284.7,"p":0.058},{"f":285.8,"p":0.051},{"f":287,"p":0.044},{"f":288.1,"p":0.04},{"f":289.2,"p":0.04},{"f":290.4,"p":0.036},{"f":291.9,"p":0.03},{"f":293,"p":0.021},{"f":294.1,"p":0.016},{"f":295.3,"p":0.012},{"f":296.8,"p":0.012},{"f":298.3,"p":0.014},{"f":299.8,"p":0.016},{"f":301.3,"p":0.016},{"f":302.8,"p":0.017},{"f":303.9,"p":0.019},{"f":305.1,"p":0.024},{"f":306.2,"p":0.029},{"f":307.5,"p":0.032},{"f":308.9,"p":0.034},{"f":310.4,"p":0.032},{"f":311.9,"p":0.034},{"f":313,"p":0.03},{"f":314.2,"p":0.025},{"f":315.3,"p":0.024},{"f":316.4,"p":0.021},{"f":317.6,"p":0.018},{"f":318.7,"p":0.016},{"f":320.2,"p":0.014},{"f":321.7,"p":0.012},{"f":323.2,"p":0.01},{"f":324.7,"p":0.01},{"f":326.2,"p":0.012},{"f":327.8,"p":0.012},{"f":328.9,"p":0.014},{"f":329.9,"p":0.018},{"f":330.8,"p":0.01},{"f":332.3,"p":0.008},{"f":333.8,"p":0.008},{"f":335.3,"p":0.008},{"f":336.8,"p":0.009},{"f":338.3,"p":0.009},{"f":339.5,"p":0.012},{"f":340.6,"p":0.018},{"f":342.1,"p":0.018},{"f":343.6,"p":0.018},{"f":344.7,"p":0.018},{"f":345.9,"p":0.014},{"f":347,"p":0.012},{"f":348.1,"p":0.014},{"f":349.3,"p":0.012},{"f":350.4,"p":0.016},{"f":351.6,"p":0.016},{"f":352.7,"p":0.025},{"f":353.8,"p":0.051},{"f":354.8,"p":0.069},{"f":355.8,"p":0.058},{"f":356.8,"p":0.062},{"f":357.8,"p":0.073},{"f":358.7,"p":0.061},{"f":359.6,"p":0.047},{"f":360.6,"p":0.04},{"f":361.7,"p":0.038},{"f":362.9,"p":0.037},{"f":364,"p":0.032},{"f":365.1,"p":0.032},{"f":366.3,"p":0.022},{"f":367.4,"p":0.012},{"f":368.6,"p":0.01},{"f":369.7,"p":0.012},{"f":370.8,"p":0.012},{"f":372,"p":0.011},{"f":372.9,"p":0.018},{"f":373.9,"p":0.018},{"f":375,"p":0.012},{"f":376.1,"p":0.01},{"f":376.9,"p":0.014},{"f":378,"p":0.01},{"f":379.1,"p":0.008},{"f":379.9,"p":0.009},{"f":380.7,"p":0.019},{"f":381.4,"p":0.029},{"f":382.3,"p":0.035},{"f":383.3,"p":0.051},{"f":384.4,"p":0.077},{"f":385.6,"p":0.088},{"f":386.7,"p":0.097},{"f":387.8,"p":0.103},{"f":389,"p":0.11},{"f":389.9,"p":0.123},{"f":390.5,"p":0.133},{"f":391.6,"p":0.142},{"f":392.6,"p":0.155},{"f":393.5,"p":0.172},{"f":394.6,"p":0.194},{"f":395.7,"p":0.225},{"f":396.9,"p":0.269},{"f":398,"p":0.282},{"f":398.8,"p":0.294},{"f":399.9,"p":0.296},{"f":400.9,"p":0.276},{"f":401.8,"p":0.251},{"f":403,"p":0.24},{"f":404.1,"p":0.24},{"f":405,"p":0.25},{"f":406,"p":0.279},{"f":407,"p":0.292},{"f":408,"p":0.302},{"f":409,"p":0.298},{"f":410.1,"p":0.296},{"f":411.2,"p":0.287},{"f":412.4,"p":0.282},{"f":413.5,"p":0.279},{"f":414.3,"p":0.272},{"f":415,"p":0.259},{"f":416,"p":0.259},{"f":416.8,"p":0.246},{"f":417.7,"p":0.217},{"f":418.6,"p":0.188},{"f":419.5,"p":0.165},{"f":420.5,"p":0.151},{"f":421.6,"p":0.149},{"f":422.8,"p":0.138},{"f":423.9,"p":0.12},{"f":424.8,"p":0.087},{"f":426,"p":0.092},{"f":426.9,"p":0.099},{"f":428.1,"p":0.099},{"f":429.1,"p":0.1},{"f":430.1,"p":0.107},{"f":431.3,"p":0.11},{"f":432.4,"p":0.108},{"f":433.4,"p":0.107},{"f":434.4,"p":0.114},{"f":435.4,"p":0.125},{"f":436.5,"p":0.133},{"f":437.7,"p":0.146},{"f":438.8,"p":0.159},{"f":439.9,"p":0.166},{"f":441.1,"p":0.168},{"f":442,"p":0.177},{"f":443,"p":0.188},{"f":443.9,"p":0.175},{"f":445,"p":0.165},{"f":446,"p":0.181},{"f":447,"p":0.152},{"f":447.9,"p":0.113},{"f":448.6,"p":0.081},{"f":449.8,"p":0.079},{"f":450.9,"p":0.066},{"f":452,"p":0.055},{"f":453.2,"p":0.045},{"f":454.3,"p":0.047},{"f":455.6,"p":0.053},{"f":456.9,"p":0.062},{"f":458,"p":0.058},{"f":459.2,"p":0.051},{"f":460.3,"p":0.045},{"f":461.5,"p":0.04},{"f":462.6,"p":0.038},{"f":463.7,"p":0.035},{"f":464.7,"p":0.047},{"f":465.6,"p":0.071},{"f":466.4,"p":0.103},{"f":467.1,"p":0.159},{"f":467.9,"p":0.24},{"f":468.7,"p":0.334},{"f":469.8,"p":0.38},{"f":470.9,"p":0.406},{"f":472,"p":0.415},{"f":472.9,"p":0.415},{"f":474,"p":0.425},{"f":474.9,"p":0.441},{"f":476,"p":0.461},{"f":477.2,"p":0.459},{"f":478.1,"p":0.454},{"f":479,"p":0.438}
],
"truth": [
{"f":0,"p":0},{"f":54,"p":0},{"f":55,"p":1},{"f":196,"p":1},{"f":197,"p":0},{"f":479,"p":0}
]
},
"encoding": {
"x": {"field": "f", "type": "quantitative",
  "scale": {"domain": [-23.95, 502.95], "nice": false, "zero": false},
  "axis": {"values": [0,100,200,300,400,500], "grid": true, "gridColor": "white", "gridWidth": 1.3, "domain": false, "ticks": false, "tickSize": 0,
    "labelFont": "Liberation Serif", "labelFontWeight": "bold", "labelFontSize": 27, "labelColor": "black", "labelPadding": 16, "labelDx": -6, "labelBaseline": "top", "labelFlush": false, "labelOverlap": false,
    "title": "Time (Frames)", "titleFont": "Liberation Serif", "titleFontSize": 46, "titleFontWeight": "bold", "titleColor": "black", "titleX": 1168, "titleY": 47, "titleBaseline": "alphabetic", "titleAnchor": "middle", "titleAlign": "center"}},
"y": {"field": "p", "type": "quantitative",
  "scale": {"domain": [-0.1, 1.1], "nice": false, "zero": false},
  "axis": {"values": [0,0.2,0.4,0.6,0.8,1.0], "format": ".1f", "grid": true, "gridColor": "white", "gridWidth": 1.3, "domain": false, "ticks": false, "tickSize": 0,
    "labelFont": "Liberation Serif", "labelFontWeight": "bold", "labelFontSize": 22, "labelColor": "black", "labelPadding": 20, "labelBaseline": "middle",
    "title": "Probability", "titleFont": "Liberation Serif", "titleFontSize": 33, "titleFontWeight": "bold", "titleColor": "black", "titleX": -64, "titleY": 307, "titleAngle": -90, "titleBaseline": "middle", "titleAlign": "center"}}
},
"layer": [
{"data": {"name": "aula"}, "mark": {"type": "line", "strokeWidth": 3.8, "strokeJoin": "round"},
 "encoding": {"color": {"datum": "Predicted AULA-Caps", "type": "nominal",
   "scale": {"domain": ["Predicted AULA-Caps","Predicted 2D Stream","Predicted 3D Stream","True Label"], "range": ["#FF0000","#0000FF","#000000","#008000"]},
   "legend": {"title": null, "orient": "none", "legendX": 1836, "legendY": 14, "symbolType": "M-1,0H3", "symbolSize": 1056, "symbolStrokeWidth": 3.8,
     "labelFont": "DejaVu Sans", "labelFontWeight": "bold", "labelFontSize": 30, "labelColor": "#262626", "labelOffset": 55, "labelLimit": 1000,
     "padding": 10, "rowPadding": 11, "fillColor": "#EAEAF2", "strokeColor": "#CCCCCC", "cornerRadius": 6}}}},
{"data": {"name": "d2"}, "mark": {"type": "line", "strokeWidth": 3.8, "strokeJoin": "round"},
 "encoding": {"color": {"datum": "Predicted 2D Stream", "type": "nominal"}}},
{"data": {"name": "d3"}, "mark": {"type": "line", "strokeWidth": 3.8, "strokeJoin": "round"},
 "encoding": {"color": {"datum": "Predicted 3D Stream", "type": "nominal"}}},
{"data": {"name": "truth"}, "mark": {"type": "line", "strokeWidth": 4.2, "strokeJoin": "round"},
 "encoding": {"color": {"datum": "True Label", "type": "nominal"}}}
]
}
